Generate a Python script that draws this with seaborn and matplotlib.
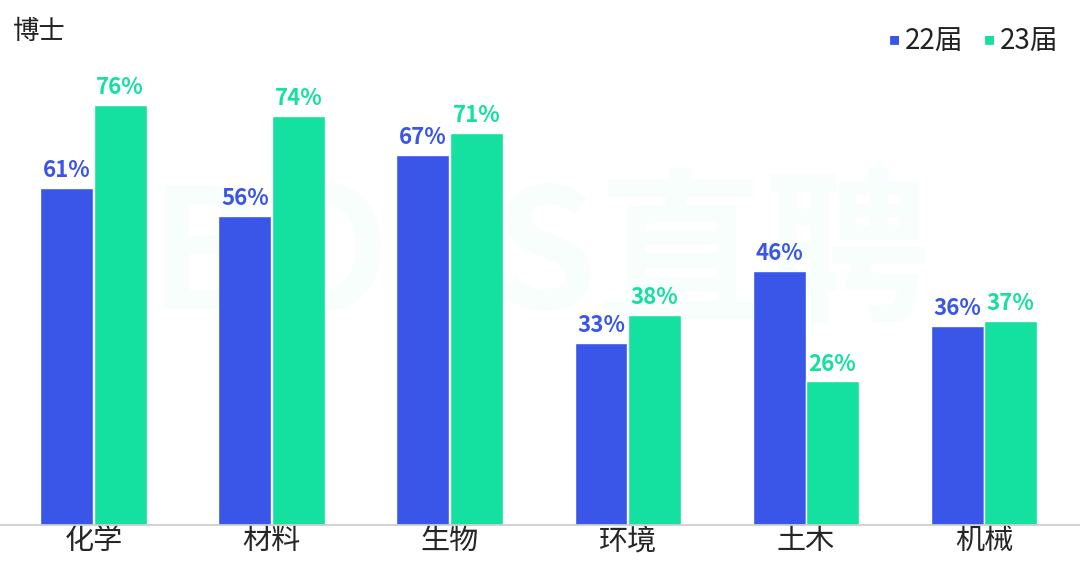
import seaborn as sb
import matplotlib.pyplot as plt
import pandas as pd

# Data
majors = ['化学', '材料', '生物', '环境', '土木', '机械']
y22 = [61, 56, 67, 33, 46, 36]
y23 = [76, 74, 71, 38, 26, 37]
years = ['22届', '23届']
colors = ['#3a56e8', '#14e0a0']

df = pd.DataFrame({
    'major': majors * 2,
    'value': y22 + y23,
    'year': [years[0]] * len(majors) + [years[1]] * len(majors),
})

sb.set_theme(style='white')
plt.rcParams['font.family'] = ['Noto Sans CJK SC', 'DejaVu Sans']

fig = plt.figure(figsize=(10.8, 5.76), dpi=100)
ax = fig.add_axes([0, 51 / 576, 1, 525 / 576])

sb.barplot(data=df, x='major', y='value', hue='year', palette=colors,
           width=0.6, gap=0.01, ax=ax, legend=False, saturation=1)

# Value labels
for cont, col in zip(ax.containers, colors):
    ax.bar_label(cont, labels=[f'{int(v)}%' for v in cont.datavalues],
                 padding=4, color=col, fontsize=16, fontweight='bold')

ax.set_xlim(-0.525, 5.54)
ax.set_ylim(0, 95)
ax.set_xlabel('')
ax.set_ylabel('')
ax.set_yticks([])
ax.tick_params(axis='x', labelsize=21, pad=1, length=0)
for s in ['top', 'right', 'left']:
    ax.spines[s].set_visible(False)
ax.spines['bottom'].set_color('#cccccc')

# Watermark, very faint, behind the bars
wm = ax.text(0.5, 0.55, 'BOSS直聘', transform=fig.transFigure, fontsize=120,
             fontweight='bold', color='#14e0a0', alpha=0.03,
             ha='center', va='center', zorder=0)

fig.text(0.012, 0.945, '博士', fontsize=19, color='#222222', va='center')

# Legend
fig.text(0.823, 0.928, '■', fontsize=8, color=colors[0], va='center')
fig.text(0.838, 0.928, years[0], fontsize=20, color='#222222', va='center')
fig.text(0.911, 0.928, '■', fontsize=8, color=colors[1], va='center')
fig.text(0.926, 0.928, years[1], fontsize=20, color='#222222', va='center')

fig.savefig('out.png', dpi=100)
